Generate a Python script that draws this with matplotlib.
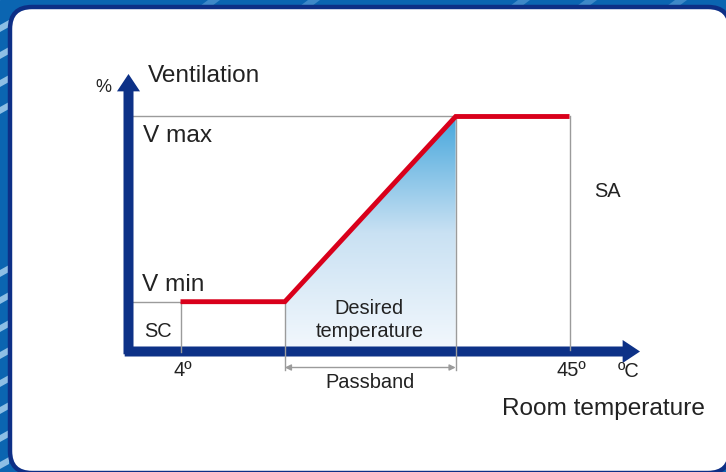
import matplotlib.pyplot as plt
import numpy as np
from matplotlib.colors import LinearSegmentedColormap
from matplotlib.patches import FancyArrowPatch, FancyBboxPatch, Polygon

plt.rcParams["font.family"] = ["Liberation Sans", "DejaVu Sans"]

# Control curve: room temperature (deg C) -> ventilation (%)
curve_temp = [4, 15, 33, 45]
curve_vent = [20, 20, 100, 100]
passband = [15, 33]
t_low, t_high = 4, 45
v_min, v_max = 20, 100

# Pixel calibration of the schematic (where 4 deg and V min land)
PX_T_LOW, PX_T_HIGH = 180.5, 569.5
PX_V_MIN, PX_V_MAX = 301.7, 116.5
W, H = 726, 472
SX = (PX_T_HIGH - PX_T_LOW) / (t_high - t_low)
SY = (PX_V_MIN - PX_V_MAX) / (v_max - v_min)

NAVY = "#0d3187"
RED = "#d9001b"
GRAY = "#9b9b9b"
TXT = "#222222"


def px(xp, yp):
    """Convert reference pixel position to chart data units."""
    return t_low + (xp - PX_T_LOW) / SX, v_min + (PX_V_MIN - yp) / SY


fig = plt.figure(figsize=(W / 100, H / 100), dpi=100)

# background frame drawn in pixel coordinates
bg = fig.add_axes([0, 0, 1, 1])
bg.set_xlim(0, W)
bg.set_ylim(H, 0)
bg.axis("off")
bg.add_patch(plt.Rectangle((0, 0), W, H, color="#0b65b1", zorder=0))
for ys in [25, 52, 80, 107, 270, 297, 325, 352, 380, 407, 435, 462]:
    bg.add_patch(Polygon([(0, ys), (9, ys - 5), (9, ys + 2), (0, ys + 7)],
                         closed=True, color="#8dbfe5", lw=0, zorder=1))
for xs in [510, 577, 667, 300, 200]:
    bg.add_patch(Polygon([(xs, 6), (xs + 8, 0), (xs + 20, 0), (xs + 12, 6)],
                         closed=True, color="#3d88c8", lw=0, zorder=1))
bg.add_patch(FancyBboxPatch((10, 7), 720, 466,
                            boxstyle="round,pad=0,rounding_size=22",
                            facecolor="white", edgecolor="#0d2f86",
                            lw=3.2, zorder=2))

ax = fig.add_axes([0, 0, 1, 1])
ax.patch.set_alpha(0)
x0, y1 = px(0, H)
x1, y0 = px(W, 0)
ax.set_xlim(x0, x1)
ax.set_ylim(y1, y0)
ax.axis("off")

ax_x, ax_y = px(128.5, 351.5)
x_tip, _ = px(640, 0)
_, y_tip = px(0, 74)

# gradient under the ramp
cmap = LinearSegmentedColormap.from_list("vent", ["#f3f8fd", "#c9e1f3", "#45a6dc"])
grad = np.linspace(0, 1, 256).reshape(-1, 1)
img = ax.imshow(grad, cmap=cmap, origin="lower", aspect="auto",
                extent=[passband[0], passband[1], ax_y, v_max], zorder=3)
fill_poly = Polygon([(passband[0], ax_y), (passband[0], v_min),
                     (passband[1], v_max), (passband[1], ax_y)],
                    closed=True, transform=ax.transData, facecolor="none", lw=0)
ax.add_patch(fill_poly)
img.set_clip_path(fill_poly)
ax.set_xlim(x0, x1)
ax.set_ylim(y1, y0)

# guide lines
ax.plot([ax_x, passband[1]], [v_max, v_max], color=GRAY, lw=1, zorder=4)
ax.plot([ax_x, t_low], [v_min, v_min], color=GRAY, lw=1, zorder=4)
_, y_low_end = px(0, 352)
_, y_pass_end = px(0, 370)
ax.plot([t_low, t_low], [v_min, y_low_end], color=GRAY, lw=1, zorder=6)
ax.plot([t_high, t_high], [v_max, y_low_end + 1], color=GRAY, lw=1, zorder=6)
for t in passband:
    ax.plot([t, t], [curve_vent[curve_temp.index(t)], y_pass_end],
            color=GRAY, lw=1, zorder=6)

_, y_arrow = px(0, 367.5)
ax.annotate("", xy=(passband[1], y_arrow), xytext=(passband[0], y_arrow),
            arrowprops=dict(arrowstyle="<|-|>", color=GRAY, lw=1,
                            mutation_scale=9, shrinkA=0, shrinkB=0), zorder=6)

# control curve
ax.plot(curve_temp, curve_vent, color=RED, lw=3.5, solid_capstyle="butt",
        solid_joinstyle="miter", zorder=7)

# axis arrows
style = "Simple,tail_width=7.2,head_width=16.6,head_length=12.5"
ax.add_patch(FancyArrowPatch((ax_x, ax_y - 1.2), (ax_x, y_tip), arrowstyle=style,
                             mutation_scale=1, shrinkA=0, shrinkB=0,
                             color=NAVY, lw=0, zorder=5))
ax.add_patch(FancyArrowPatch((ax_x - 0.4, ax_y), (x_tip, ax_y), arrowstyle=style,
                             mutation_scale=1, shrinkA=0, shrinkB=0,
                             color=NAVY, lw=0, zorder=5))

# labels
big, small = 17.6, 14.4
labels = [
    ("%", 95, 92, 13, "left"),
    ("Ventilation", 148, 82, big, "left"),
    ("V max", 143, 142, big, "left"),
    ("V min", 142, 291, big, "left"),
    ("SC", 144, 337, small, "left"),
    ("Desired", 369, 314, small, "center"),
    ("temperature", 370, 337, small, "center"),
    ("Passband", 370, 388, small, "center"),
    ("SA", 594, 197, small, "left"),
    ("ºC", 618, 377, small, "left"),
    ("Room temperature", 502, 415, big, "left"),
]
for s, xp, yp, fs, ha in labels:
    ax.text(*px(xp, yp), s, fontsize=fs, ha=ha, va="baseline", color=TXT, zorder=8)

_, y_tick = px(0, 376)
ax.text(t_low + 0.2, y_tick, f"{t_low}º", fontsize=small, ha="center",
        va="baseline", color=TXT, zorder=8)
ax.text(t_high + 0.25, y_tick, f"{t_high}º", fontsize=small, ha="center",
        va="baseline", color=TXT, zorder=8)

fig.savefig("out.png", dpi=100)
